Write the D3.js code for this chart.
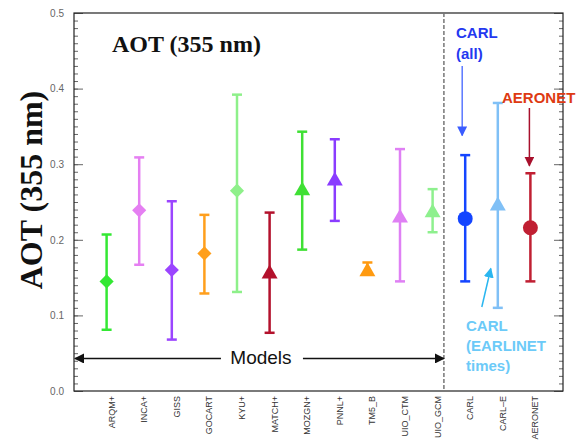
<!DOCTYPE html>
<html>
<head>
<meta charset="utf-8">
<script src="https://cdn.jsdelivr.net/npm/d3@7"></script>
<style>
  body { margin: 0; background: #fff; }
  svg { display: block; }
</style>
</head>
<body>
<div id="chart"></div>
<script>
// chart data
const models = ['ARQM+', 'INCA+', 'GISS', 'GOCART', 'KYU+', 'MATCH+', 'MOZGN+', 'PNNL+',
    'TM5_B', 'UIO_CTM', 'UIO_GCM', 'CARL', 'CARL\u2013E', 'AERONET'];
const aot     = [0.145, 0.239, 0.160, 0.182, 0.265, 0.155, 0.265, 0.278, 0.158, 0.229, 0.236, 0.228, 0.245, 0.216];
const aotHigh = [0.207, 0.309, 0.251, 0.233, 0.392, 0.236, 0.343, 0.333, 0.170, 0.320, 0.267, 0.312, 0.381, 0.288];
const aotLow  = [0.081, 0.167, 0.068, 0.129, 0.131, 0.077, 0.187, 0.225, 0.155, 0.145, 0.210, 0.145, 0.110, 0.145];
const shapes  = ['diamond', 'diamond', 'diamond', 'diamond', 'diamond', 'triangle', 'triangle', 'triangle',
    'triangle', 'triangle', 'triangle', 'circle', 'triangle', 'circle'];
const colors  = ['#33e833', '#e57ff2', '#9b45ff', '#ff9f1c', '#8ef08a', '#b3112c', '#3fe034', '#8a3cff',
    '#ff9a10', '#df80f4', '#8ef08e', '#1445ff', '#80c0f6', '#c01f32'];
const yTicks  = [0.0, 0.1, 0.2, 0.3, 0.4, 0.5];

const width = 588, height = 440;
const margin = {top: 13, right: 25, bottom: 49, left: 74};

const svg = d3.select('#chart').append('svg')
    .attr('width', width)
    .attr('height', height);

const x = d3.scalePoint()
    .domain(models)
    .range([margin.left, width - margin.right])
    .padding(1);

const y = d3.scaleLinear()
    .domain([0, 0.5])
    .range([height - margin.bottom, margin.top]);

const minor = d3.range(0, 0.5001, 0.01);

// minor ticks, left and right
svg.append('g')
    .attr('transform', `translate(${margin.left},0)`)
    .call(d3.axisLeft(y).tickValues(minor).tickSize(-4).tickFormat(''))
    .call(g => g.select('.domain').remove())
    .call(g => g.selectAll('line').attr('stroke', '#666'));
svg.append('g')
    .attr('transform', `translate(${width - margin.right},0)`)
    .call(d3.axisRight(y).tickValues(minor).tickSize(-4).tickFormat(''))
    .call(g => g.select('.domain').remove())
    .call(g => g.selectAll('line').attr('stroke', '#666'));

// major ticks
svg.append('g')
    .attr('transform', `translate(${margin.left},0)`)
    .call(d3.axisLeft(y).tickValues(yTicks).tickSize(-9).tickPadding(10).tickFormat(d3.format('.1f')))
    .call(g => g.select('.domain').remove())
    .call(g => g.selectAll('line').attr('stroke', '#666'))
    .call(g => g.selectAll('text')
        .attr('font-family', 'Liberation Sans, Arial, sans-serif')
        .attr('font-size', 10)
        .attr('fill', '#666'));
svg.append('g')
    .attr('transform', `translate(${width - margin.right},0)`)
    .call(d3.axisRight(y).tickValues(yTicks).tickSize(-9).tickFormat(''))
    .call(g => g.select('.domain').remove())
    .call(g => g.selectAll('line').attr('stroke', '#666'));

// frame
svg.append('rect')
    .attr('x', margin.left)
    .attr('y', margin.top)
    .attr('width', width - margin.left - margin.right)
    .attr('height', height - margin.top - margin.bottom)
    .attr('fill', 'none')
    .attr('stroke', '#222')
    .attr('stroke-width', 1.2);

// x labels
svg.append('g')
    .selectAll('text')
    .data(models)
    .join('text')
    .attr('transform', d => `translate(${x(d) + 8},${height - margin.bottom + 5}) rotate(-90)`)
    .attr('text-anchor', 'end')
    .attr('font-family', 'Liberation Sans Narrow, Liberation Sans, Arial, sans-serif')
    .attr('font-size', 9)
    .attr('fill', '#333')
    .text(d => d);

// separator between models and observations
const sepX = (x('UIO_GCM') + x('CARL')) / 2 - 5;
svg.append('line')
    .attr('x1', sepX).attr('x2', sepX)
    .attr('y1', margin.top).attr('y2', height - margin.bottom)
    .attr('stroke', '#777')
    .attr('stroke-width', 1.5)
    .attr('stroke-dasharray', '4,2');

// arrow markers
const defs = svg.append('defs');
function arrowHead(id, color, orient) {
    defs.append('marker')
        .attr('id', id)
        .attr('viewBox', '0 0 10 10')
        .attr('refX', 9).attr('refY', 5)
        .attr('markerWidth', 10).attr('markerHeight', 10)
        .attr('markerUnits', 'userSpaceOnUse')
        .attr('orient', orient || 'auto')
        .append('path')
        .attr('d', 'M0,0 L10,5 L0,10 Z')
        .attr('fill', color);
}
arrowHead('ah-black', '#111');
arrowHead('ah-black-start', '#111', 'auto-start-reverse');
arrowHead('ah-blue', '#3a5cff');
arrowHead('ah-red', '#a8102c');
arrowHead('ah-sky', '#2ab6f0');

// "Models" arrow
const modelsY = y(0.043);
const modelsMid = (margin.left + sepX) / 2 + 2;
svg.append('line')
    .attr('x1', margin.left + 1).attr('x2', modelsMid - 40)
    .attr('y1', modelsY).attr('y2', modelsY)
    .attr('stroke', '#111').attr('stroke-width', 1.3)
    .attr('marker-start', 'url(#ah-black-start)');
svg.append('line')
    .attr('x1', modelsMid + 42).attr('x2', sepX)
    .attr('y1', modelsY).attr('y2', modelsY)
    .attr('stroke', '#111').attr('stroke-width', 1.3)
    .attr('marker-end', 'url(#ah-black)');
svg.append('text')
    .attr('x', modelsMid).attr('y', modelsY + 6)
    .attr('text-anchor', 'middle')
    .attr('font-family', 'Liberation Sans, Arial, sans-serif')
    .attr('font-size', 19)
    .attr('fill', '#111')
    .text('Models');

// error bars
const bars = svg.append('g');
models.forEach((m, i) => {
    const g = bars.append('g').attr('stroke', colors[i]).attr('stroke-width', 2.5);
    g.append('line')
        .attr('x1', x(m)).attr('x2', x(m))
        .attr('y1', y(aotLow[i])).attr('y2', y(aotHigh[i]));
    [aotLow[i], aotHigh[i]].forEach(v => {
        g.append('line')
            .attr('x1', x(m) - 5).attr('x2', x(m) + 5)
            .attr('y1', y(v)).attr('y2', y(v));
    });
});

// markers
const symType = {diamond: d3.symbolSquare, triangle: d3.symbolTriangle, circle: d3.symbolCircle};
const symSize = {diamond: 100, triangle: 110, circle: 175};
svg.append('g')
    .selectAll('path')
    .data(models)
    .join('path')
    .attr('d', (d, i) => d3.symbol(symType[shapes[i]], symSize[shapes[i]])())
    .attr('transform', (d, i) => `translate(${x(d)},${y(aot[i])})` + (shapes[i] === 'diamond' ? ' rotate(45)' : ''))
    .attr('fill', (d, i) => colors[i]);

// titles
svg.append('text')
    .attr('x', 112).attr('y', 52)
    .attr('font-family', 'Liberation Serif, Times New Roman, serif')
    .attr('font-weight', 'bold')
    .attr('font-size', 24)
    .attr('fill', '#111')
    .text('AOT (355 nm)');

svg.append('text')
    .attr('transform', `translate(42,${(88 + 292) / 2}) rotate(-90)`)
    .attr('text-anchor', 'middle')
    .attr('font-family', 'Liberation Serif, Times New Roman, serif')
    .attr('font-weight', 'bold')
    .attr('font-size', 32)
    .attr('fill', '#111')
    .text('AOT (355 nm)');

// annotations
const annFont = 'Liberation Sans, Arial, sans-serif';
function label(lines, xPos, yPos, color, lh) {
    const t = svg.append('text')
        .attr('font-family', annFont)
        .attr('font-weight', 'bold')
        .attr('font-size', 15)
        .attr('fill', color);
    lines.forEach((l, k) => {
        t.append('tspan').attr('x', xPos).attr('y', yPos + k * lh).text(l);
    });
}
label(['CARL', '(all)'], 456, 38, '#2438f0', 21);
label(['AERONET'], 502, 103, '#de3a12', 0);
label(['CARL', '(EARLINET', 'times)'], 466, 331, '#6ccaf8', 20);

const carlX = x('CARL'), aerX = x('AERONET'), carlEX = x('CARL\u2013E');
svg.append('line')
    .attr('x1', carlX - 3).attr('x2', carlX - 3)
    .attr('y1', 66).attr('y2', y(0.338))
    .attr('stroke', '#5a78ff').attr('stroke-width', 1.5)
    .attr('marker-end', 'url(#ah-blue)');
svg.append('line')
    .attr('x1', aerX - 1).attr('x2', aerX - 1)
    .attr('y1', 108).attr('y2', y(0.298))
    .attr('stroke', '#a8102c').attr('stroke-width', 1.5)
    .attr('marker-end', 'url(#ah-red)');
svg.append('line')
    .attr('x1', carlEX - 16).attr('x2', carlEX - 7)
    .attr('y1', 307).attr('y2', y(0.162))
    .attr('stroke', '#2ab6f0').attr('stroke-width', 1.5)
    .attr('marker-end', 'url(#ah-sky)');
</script>
</body>
</html>
